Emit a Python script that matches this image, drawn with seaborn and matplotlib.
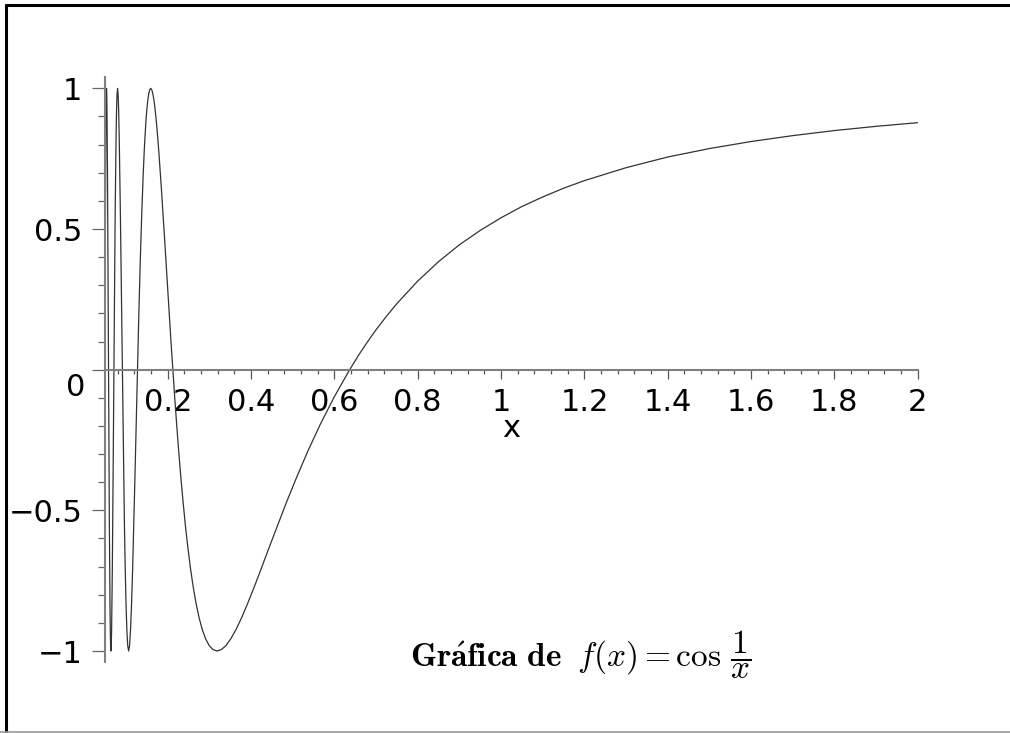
import matplotlib
matplotlib.use("Agg")
import matplotlib.pyplot as plt
import matplotlib.transforms as mtransforms
from matplotlib.lines import Line2D
from matplotlib.ticker import MultipleLocator
import seaborn as sns

x_vals = [0.05, 0.05043, 0.05093, 0.05144, 0.05197, 0.05250, 0.05305,
          0.05361, 0.05418, 0.05476, 0.05536, 0.05597, 0.05659, 0.05722, 0.05787,
          0.05854, 0.05922, 0.05992, 0.06063, 0.06136, 0.06211, 0.06288, 0.06366,
          0.06447, 0.06529, 0.06614, 0.06701, 0.06791, 0.06882, 0.06977, 0.07074,
          0.07173, 0.07276, 0.07381, 0.07490, 0.07601, 0.07717, 0.07835, 0.07958,
          0.08084, 0.08214, 0.08349, 0.08488, 0.08632, 0.08781, 0.08935, 0.09095,
          0.09260, 0.09431, 0.09609, 0.09794, 0.09986, 0.10186, 0.10394, 0.10610,
          0.10836, 0.11072, 0.11318, 0.11575, 0.11844, 0.12126, 0.12422, 0.12732,
          0.13059, 0.13403, 0.13765, 0.14147, 0.14551, 0.14979, 0.15433, 0.15915,
          0.16429, 0.16977, 0.17562, 0.18189, 0.18863, 0.19588, 0.20372, 0.21221,
          0.22143, 0.23150, 0.24252, 0.25465, 0.26805, 0.28294, 0.29959, 0.31831,
          0.33953, 0.36378, 0.39177, 0.42441, 0.46300, 0.50930, 0.56588, 0.63662,
          0.66, 0.70, 0.75, 0.80, 0.85, 0.90, 0.95, 1.0, 1.1, 1.2, 1.3, 1.4,
          1.5, 1.6, 1.7, 1.8, 1.9, 2.0]
y_vals = [0.408, 0.556, 0.707, 0.831, 0.924, 0.981, 1.0,
          0.981, 0.924, 0.831, 0.707, 0.556, 0.383, 0.195, 0.0,
          -0.195, -0.383, -0.556, -0.707, -0.831, -0.924, -0.981, -1.0,
          -0.981, -0.924, -0.831, -0.707, -0.556, -0.383, -0.195, 0.0,
          0.195, 0.383, 0.556, 0.707, 0.831, 0.924, 0.981, 1.0,
          0.981, 0.924, 0.831, 0.707, 0.556, 0.383, 0.195, 0.0,
          -0.195, -0.383, -0.556, -0.707, -0.831, -0.924, -0.981, -1.0,
          -0.981, -0.924, -0.831, -0.707, -0.556, -0.383, -0.195, 0.0,
          0.195, 0.383, 0.556, 0.707, 0.831, 0.924, 0.981, 1.0,
          0.981, 0.924, 0.831, 0.707, 0.556, 0.383, 0.195, 0.0,
          -0.195, -0.383, -0.556, -0.707, -0.831, -0.924, -0.981, -1.0,
          -0.981, -0.924, -0.831, -0.707, -0.556, -0.383, -0.195, 0.0,
          0.056, 0.142, 0.235, 0.315, 0.384, 0.444, 0.495, 0.540, 0.614, 0.672, 0.718, 0.756,
          0.786, 0.811, 0.832, 0.850, 0.865, 0.878]

# puntos adicionales en las ondas anchas (pico, valle y subida)
x_extra = [0.14346, 0.14762, 0.15203, 0.15671, 0.16168, 0.16698, 0.17264, 0.17870,
           0.18520, 0.19219, 0.19972, 0.20788, 0.21672, 0.22635, 0.23688, 0.24844,
           0.26118, 0.27530, 0.29103, 0.30866, 0.32858, 0.35124, 0.37726, 0.40744,
           0.44287, 0.48504, 0.53610, 0.59917, 0.68, 0.725, 1.05, 1.15]
y_extra = [0.773, 0.882, 0.957, 0.995, 0.995, 0.957, 0.882, 0.773,
           0.634, 0.471, 0.290, 0.098, -0.098, -0.290, -0.471, -0.634,
           -0.773, -0.882, -0.957, -0.995, -0.995, -0.957, -0.882, -0.773,
           -0.634, -0.471, -0.290, -0.098, 0.100, 0.190, 0.580, 0.645]

x_ticks = [0.2, 0.4, 0.6, 0.8, 1.0, 1.2, 1.4, 1.6, 1.8, 2.0]
x_ticklabels = ["0.2", "0.4", "0.6", "0.8", "1", "1.2", "1.4", "1.6", "1.8", "2"]
y_ticks = [-1.0, -0.5, 0.0, 0.5, 1.0]
y_ticklabels = ["\u22121", "\u22120.5", "", "0.5", "1"]
titulo = r"$\mathbf{Gr\acute{a}fica\ de}\;\; f(x)=\cos\,\dfrac{1}{x}$"

# --- estilo ---
sns.set_style("white")
plt.rcParams["font.family"] = ["DejaVu Sans"]
plt.rcParams["mathtext.fontset"] = "cm"
plt.rcParams["text.color"] = "black"
plt.rcParams["xtick.labelcolor"] = "black"
plt.rcParams["ytick.labelcolor"] = "black"

fig = plt.figure(figsize=(10.1, 7.33), dpi=100)
ax = fig.add_axes([0.1042, 0.0965, 0.8044, 0.7983])

sns.lineplot(x=x_vals + x_extra, y=y_vals + y_extra, ax=ax, estimator=None,
             sort=True, color="#333333", linewidth=0.9, legend=False)

ax.set_xlim(0.05, 2.0)
ax.set_ylim(-1.04, 1.04)

# ejes estilo Maple: eje x en y=0, eje y en el borde izquierdo
ax.spines["bottom"].set_position(("data", 0))
ax.spines["top"].set_visible(False)
ax.spines["right"].set_visible(False)
for s in ("bottom", "left"):
    ax.spines[s].set_color("#808080")
    ax.spines[s].set_linewidth(1.5)

ax.set_xticks(x_ticks)
ax.set_xticklabels(x_ticklabels)
ax.xaxis.set_minor_locator(MultipleLocator(0.04))
ax.set_yticks(y_ticks)
ax.set_yticklabels(y_ticklabels)
ax.yaxis.set_minor_locator(MultipleLocator(0.1))

ax.tick_params(axis="x", which="both", bottom=True)
ax.tick_params(axis="y", which="both", left=True)
ax.tick_params(axis="x", which="major", direction="out", length=6.5, width=0.9,
               color="#555555", labelsize=22, pad=6.5, labelcolor="black")
ax.tick_params(axis="x", which="minor", direction="out", length=3.1, width=0.9,
               color="#555555")
ax.tick_params(axis="y", which="major", direction="out", length=9.4, width=0.9,
               color="#666666", labelsize=22, pad=7, labelcolor="black")
ax.tick_params(axis="y", which="minor", direction="out", length=5, width=0.9,
               color="#666666")
ax.set_xlabel("")
ax.set_ylabel("")

# etiqueta del origen desplazada hacia abajo
ax.annotate("0", xy=(0.05, 0), xytext=(-14.5, -12.5), textcoords="offset points",
            ha="right", va="center", fontsize=22, color="black")

# nombre del eje x, centrado bajo el eje
trans = mtransforms.blended_transform_factory(ax.transAxes, ax.transData)
ax.annotate("x", xy=(0.5, 0), xycoords=trans, xytext=(0, -42),
            textcoords="offset points", ha="center", va="center", fontsize=22,
            color="black")

# titulo dentro de la grafica
fig.text(0.575, 0.1064, titulo, fontsize=24, ha="center", va="center", color="black")

# marco de la figura
fig.add_artist(Line2D([0.00545, 1.0], [0.9925, 0.9925], transform=fig.transFigure,
                      color="black", linewidth=2.2))
fig.add_artist(Line2D([0.00545, 0.00545], [0.0, 0.9925], transform=fig.transFigure,
                      color="black", linewidth=2.2))
fig.add_artist(Line2D([0.0, 1.0], [0.0015, 0.0015], transform=fig.transFigure,
                      color="#999999", linewidth=1.2))

fig.savefig("out.png", dpi=100)
